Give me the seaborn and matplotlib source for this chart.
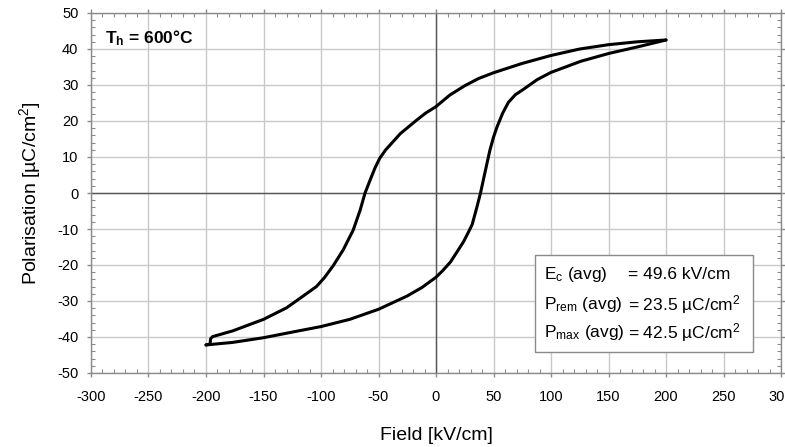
import numpy as np
import pandas as pd
import seaborn as sns
import matplotlib
matplotlib.use("Agg")
import matplotlib.pyplot as plt
from matplotlib.ticker import MultipleLocator
from matplotlib.patches import Rectangle

# ---- data ----
# descending branch (from +200 to -200 kV/cm)
field_down = [200, 175, 150, 125, 100, 75, 50, 37, 25, 12, 0, -9, -17, -31, -44, -49, -53,
              -57.4, -61.7, -66, -72, -80.7, -89.4, -97, -104, -118.5, -130, -150, -176.8,
              -194.3, -196, -196.5, -200]
pol_down = [42.5, 42.0, 41.2, 40.0, 38.2, 36.0, 33.4, 31.8, 29.8, 27.2, 24.0, 22.2, 20.2, 16.5, 11.9, 9.6, 7.0,
            3.5, 0.0, -4.8, -10.3, -15.8, -20.2, -23.5, -26.0, -29.3, -31.9, -35.1, -38.3,
            -39.9, -40.5, -42.0, -42.2]
# ascending branch (from -200 to +200 kV/cm)
field_up = [-200, -176.8, -150, -124.4, -100, -75, -50, -25, -12, 0, 6, 12.5, 18, 24, 28, 31.4,
            35.5, 38.7, 43, 46.8, 50, 53, 58, 63, 69, 76.5, 88, 100, 126, 150.7, 175.5, 200]
pol_up = [-42.2, -41.5, -40.2, -38.6, -37.1, -35.1, -32.3, -28.6, -26.2, -23.4, -21.5, -19.2, -16.5, -13.5, -11.0, -8.8,
          -4.0, 0.0, 6.3, 11.8, 15.5, 18.3, 22.2, 25.2, 27.3, 28.9, 31.5, 33.5, 36.6, 38.8, 40.6, 42.5]

x_ticks = [-300, -250, -200, -150, -100, -50, 0, 50, 100, 150, 200, 250, 300]
y_ticks = [-50, -40, -30, -20, -10, 0, 10, 20, 30, 40, 50]

title_text = r"$\mathbf{T_h}$ = 600°C"
box_left = [r"E$_\mathregular{c}$ (avg)", r"P$_\mathregular{rem}$ (avg)", r"P$_\mathregular{max}$ (avg)"]
box_right = ["= 49.6 kV/cm", r"= 23.5 µC/cm$^\mathregular{2}$", r"= 42.5 µC/cm$^\mathregular{2}$"]

# ---- style ----
sns.set_style("white")
plt.rcParams["font.family"] = ["Liberation Sans", "DejaVu Sans"]
plt.rcParams["mathtext.fontset"] = "custom"
plt.rcParams["mathtext.rm"] = "Liberation Sans"
plt.rcParams["mathtext.it"] = "Liberation Sans:italic"
plt.rcParams["mathtext.bf"] = "Liberation Sans:bold"
plt.rcParams["text.color"] = "black"
plt.rcParams["axes.labelcolor"] = "black"
plt.rcParams["xtick.labelcolor"] = "black"
plt.rcParams["ytick.labelcolor"] = "black"

fig = plt.figure(figsize=(7.85, 4.47), dpi=100)
ax = fig.add_axes([91 / 785, 1 - 373 / 447, (781 - 91) / 785, (373 - 13) / 447])

df = pd.concat([
    pd.DataFrame({"field": field_down, "pol": pol_down, "branch": "down"}),
    pd.DataFrame({"field": field_up, "pol": pol_up, "branch": "up"}),
])

ax.grid(True, which="major", color="#c8c8c8", lw=1.0, zorder=0)
ax.axhline(0, color="#555555", lw=1.0, zorder=1)
ax.axvline(0, color="#555555", lw=1.0, zorder=1)

for b in ["down", "up"]:
    sns.lineplot(data=df[df.branch == b], x="field", y="pol", sort=False, estimator=None,
                 color="black", lw=2.2, ax=ax, zorder=3, legend=False)

ax.set_xlim(-300, 300)
ax.set_ylim(-50, 50)
ax.set_xticks(x_ticks)
ax.set_yticks(y_ticks)
ax.set_xticklabels([str(v) for v in x_ticks])
ax.set_yticklabels([str(v) for v in y_ticks])
ax.xaxis.set_minor_locator(MultipleLocator(10))
ax.yaxis.set_minor_locator(MultipleLocator(2))
spine_c = "#8a8a8a"
for s in ax.spines.values():
    s.set_color(spine_c)
    s.set_linewidth(1.0)
ax.tick_params(which="major", direction="out", length=3, width=1, color=spine_c,
               top=True, right=True, bottom=True, left=True, labelsize=10.5)
ax.tick_params(axis="x", which="major", pad=9)
ax.tick_params(axis="y", which="major", pad=6)
ax.tick_params(which="minor", direction="in", length=3, width=0.8, color=spine_c,
               top=True, right=True, bottom=True, left=True)

ax.set_xlabel("Field [kV/cm]", fontsize=14, labelpad=17)
ax.set_ylabel(r"Polarisation [µC/cm$^\mathregular{2}$]", fontsize=14, labelpad=10)

ax.text(-288, 43, title_text, fontsize=12.5, fontweight="bold", va="center", ha="left", zorder=5)

ax.add_patch(Rectangle((86.5, -44.1), 276 - 86.5, 44.1 - 17.2, facecolor="white",
                       edgecolor="#8a8a8a", lw=1.0, zorder=4))
for i, yy in enumerate([-22.7, -31.0, -38.8]):
    ax.text(93.7, yy, box_left[i], fontsize=12.5, va="center", ha="left", zorder=5)
    ax.text(166.8, yy, box_right[i], fontsize=12.5, va="center", ha="left", zorder=5)

fig.savefig("out.png", dpi=100)
